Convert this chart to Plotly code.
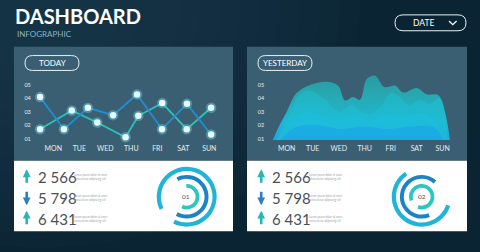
import plotly.graph_objects as go

W, H = 480, 252
def PX(x): return x / W
def PY(y): return 1 - y / H

# ---------------- data ----------------
days = ["MON", "TUE", "WED", "THU", "FRI", "SAT", "SUN"]
y_ticks = [1, 2, 3, 4, 5]
y_ticktext = ["01", "02", "03", "04", "05"]

# TODAY line chart (x in day-index units)
today_a_x = [-0.51, 0.41, 1.33, 2.30, 3.22, 4.18, 5.14, 6.07]
today_a_v = [4.1, 1.7, 3.3, 2.75, 4.3, 1.7, 3.6, 1.3]
today_b_x = [-0.51, 0.71, 1.69, 2.78, 3.27, 4.19, 5.13, 6.07]
today_b_v = [1.7, 3.1, 2.2, 1.1, 2.7, 3.65, 1.7, 3.3]

# YESTERDAY layered areas
area1_x = [-0.6, -0.35, 0.0, 0.38, 0.9, 1.54, 1.98, 2.24, 2.56, 2.82, 3.08, 3.4, 3.75, 4.17, 4.49, 5.0, 5.38, 5.83, 6.09, 6.3]
area1_v = [0.6, 1.7, 3.0, 4.4, 5.0, 5.25, 4.95, 3.85, 4.1, 3.9, 5.45, 5.7, 4.85, 4.95, 4.44, 4.78, 4.31, 4.24, 2.96, 0.6]
area2_x = [-0.5, 0.0, 0.5, 0.9, 1.5, 2.0, 2.5, 2.9, 3.3, 3.7, 4.0, 4.3, 4.7, 5.1, 5.5, 5.9, 6.2]
area2_v = [0.6, 2.4, 4.3, 4.6, 3.9, 3.0, 3.5, 3.0, 2.9, 3.6, 4.4, 4.2, 3.5, 3.9, 3.6, 4.0, 0.6]
area3_x = [-0.45, 0.2, 0.8, 1.4, 2.0, 2.6, 3.2, 3.8, 4.4, 5.0, 5.6, 6.15]
area3_v = [0.6, 2.4, 3.0, 2.6, 2.4, 2.7, 2.3, 2.8, 2.6, 2.9, 2.6, 0.6]
area4_x = [-0.4, 0.3, 1.2, 2.1, 3.0, 3.9, 4.8, 5.7, 6.1]
area4_v = [0.6, 1.8, 2.0, 1.7, 1.9, 1.7, 1.9, 1.8, 0.6]

# stats rows
stat_values = ["2 566", "5 798", "6 431"]
stat_dirs = ["up", "down", "up"]
stat_rows_y = [178.7, 199.5, 220.5]

# donut rings: (inner radius, thickness, start angle, end angle, color)
ring_colors = ["#1fb4d8", "#1c84c6", "#2cc6c0"]
ring_base = [26, 18, 9]
ring_thick = [4.2, 4.0, 3.8]
donut1_start = [243, -120, -115]
donut1_end = [566, 118, 92]
donut2_start = [124, 48, 250]
donut2_end = [342, 292, 560]
donut_labels = ["01", "02"]

FONT = "Lato"
PANEL = "#3b5f72"
BG = "#0b2433"

fig = go.Figure()

# ---- line chart
for xs, vs, col in [(today_b_x, today_b_v, "#27c3bc"), (today_a_x, today_a_v, "#1f8fd2")]:
    fig.add_trace(go.Scatter(x=xs, y=vs, mode="lines", line=dict(color=col, width=1.8),
                             xaxis="x", yaxis="y", hoverinfo="skip", showlegend=False))
for xs, vs in [(today_b_x, today_b_v), (today_a_x, today_a_v)]:
    fig.add_trace(go.Scatter(x=xs, y=vs, mode="markers",
                             marker=dict(color="rgba(130,235,255,0.35)", size=10.5),
                             xaxis="x", yaxis="y", cliponaxis=False, hoverinfo="skip", showlegend=False))
    fig.add_trace(go.Scatter(x=xs, y=vs, mode="markers",
                             marker=dict(color="#e4fcff", size=6.5),
                             xaxis="x", yaxis="y", cliponaxis=False, hoverinfo="skip", showlegend=False))

# ---- area chart
fig.add_trace(go.Scatter(x=area1_x, y=area1_v, mode="lines", line=dict(width=0, shape="spline", smoothing=1.0),
                         fill="tozeroy",
                         fillgradient=dict(type="vertical",
                                           colorscale=[[0, "#1a9ee6"], [0.4, "#1fb7d4"], [0.75, "#27a8b0"], [1, "#2a9aa2"]]),
                         xaxis="x2", yaxis="y2", hoverinfo="skip", showlegend=False))
fig.add_trace(go.Scatter(x=area2_x, y=area2_v, mode="lines", line=dict(width=0, shape="spline", smoothing=1.0),
                         fill="tozeroy", fillcolor="rgba(30,192,212,0.55)",
                         xaxis="x2", yaxis="y2", hoverinfo="skip", showlegend=False))
fig.add_trace(go.Scatter(x=area3_x, y=area3_v, mode="lines", line=dict(width=0, shape="spline", smoothing=1.0),
                         fill="tozeroy", fillcolor="rgba(28,190,228,0.45)",
                         xaxis="x2", yaxis="y2", hoverinfo="skip", showlegend=False))
fig.add_trace(go.Scatter(x=area4_x, y=area4_v, mode="lines", line=dict(width=0, shape="spline", smoothing=1.0),
                         fill="tozeroy", fillcolor="rgba(26,160,232,0.55)",
                         xaxis="x2", yaxis="y2", hoverinfo="skip", showlegend=False))

# ---- donuts
for k, (starts, ends) in enumerate([(donut1_start, donut1_end), (donut2_start, donut2_end)]):
    pname = "polar" if k == 0 else "polar2"
    for i in range(3):
        s, e = starts[i], ends[i]
        fig.add_trace(go.Barpolar(r=[ring_thick[i]], base=[ring_base[i]], theta=[(s + e) / 2],
                                  width=[e - s], marker=dict(color=ring_colors[i], line=dict(width=0)),
                                  subplot=pname, hoverinfo="skip", showlegend=False))

shapes = []
# soft background glow at top-left
for rr in range(320, 40, -20):
    shapes.append(dict(type="circle", xref="paper", yref="paper",
                       x0=PX(40 - rr), x1=PX(40 + rr), y0=PY(10 + rr * 0.75), y1=PY(10 - rr * 0.75),
                       fillcolor="rgba(30,85,100,0.05)", line=dict(width=0), layer="below"))

def rect(x0, y0, x1, y1, color):
    shapes.append(dict(type="rect", xref="paper", yref="paper", x0=PX(x0), x1=PX(x1), y0=PY(y1), y1=PY(y0),
                       fillcolor=color, line=dict(width=0), layer="below"))

def pill(x0, y0, x1, y1, color="#e8f2f6", width=1):
    r = (y1 - y0) / 2
    ym = (y0 + y1) / 2
    def p(x, y): return f"{PX(x):.5f},{PY(y):.5f}"
    path = (f"M{p(x0 + r, y0)} L{p(x1 - r, y0)} Q{p(x1, y0)} {p(x1, ym)} Q{p(x1, y1)} {p(x1 - r, y1)} "
            f"L{p(x0 + r, y1)} Q{p(x0, y1)} {p(x0, ym)} Q{p(x0, y0)} {p(x0 + r, y0)} Z")
    shapes.append(dict(type="path", xref="paper", yref="paper", path=path,
                       line=dict(color=color, width=width), fillcolor="rgba(0,0,0,0)"))

# panels
for x0, x1 in [(14, 233), (247, 467)]:
    rect(x0, 47, x1, 162, PANEL)
    rect(x0, 162, x1, 233, "#ffffff")

pill(25, 56, 79, 71)
pill(258, 56, 312, 71)
pill(395, 15, 466, 31)
# chevron in DATE pill
shapes.append(dict(type="path", xref="paper", yref="paper",
                   path=f"M{PX(449):.5f},{PY(21.2):.5f} L{PX(452.8):.5f},{PY(24.8):.5f} L{PX(456.6):.5f},{PY(21.2):.5f}",
                   line=dict(color="#ffffff", width=1.3)))

ann = []
def text(x, y, t, size, color, xanchor="left", bold=False, family=FONT):
    ann.append(dict(x=PX(x), y=PY(y), xref="paper", yref="paper", text=(f"<b>{t}</b>" if bold else t),
                    showarrow=False, xanchor=xanchor, yanchor="middle",
                    font=dict(size=size, color=color, family=family)))

text(13, 16.5, "DASHBOARD", 20, "#ffffff", bold=True)
text(14.5, 34.5, "INFOGRAPHIC", 8, "#8db2c3")
text(423.5, 23, "DATE", 8.5, "#ffffff", xanchor="center")
text(52, 63.8, "TODAY", 8, "#ffffff", xanchor="center")
text(285.3, 63.8, "YESTERDAY", 8, "#ffffff", xanchor="center")

for ox in [0, 234.5]:
    for val, d, yy in zip(stat_values, stat_dirs, stat_rows_y):
        col = "#27b6b6" if d == "up" else "#2a7fc0"
        tip, tail = (yy - 8, yy + 7) if d == "up" else (yy + 7.5, yy - 7.5)
        ann.append(dict(x=PX(26.7 + ox), y=PY(tip), xref="paper", yref="paper", ax=0, ay=tail - tip,
                        showarrow=True, arrowhead=2, arrowsize=0.6, arrowwidth=2.6, arrowcolor=col, text=""))
        text(35.5 + ox, yy, val, 15, "#4a4f55")
        ann.append(dict(x=PX(72 + ox), y=PY(yy), xref="paper", yref="paper",
                        text="Lorem ipsum dolor sit amet<br>consectetur adipiscing elit",
                        showarrow=False, xanchor="left", yanchor="middle", align="left",
                        font=dict(size=2.8, color="#9a9fa4", family=FONT)))

text(186.2, 198.5, donut_labels[0], 6.5, "#4a4f55", xanchor="center")
text(421.7, 198.5, donut_labels[1], 6.5, "#4a4f55", xanchor="center")

axis_common = dict(showgrid=False, zeroline=False, showline=False, ticks="", fixedrange=True)
xfont = dict(size=7, color="#e4edf2", family=FONT)
yfont = dict(size=5.5, color="#e4edf2", family=FONT)

def polar_layout(cx, cy):
    R = 31
    return dict(domain=dict(x=[PX(cx - R), PX(cx + R)], y=[PY(cy + R), PY(cy - R)]),
                bgcolor="rgba(0,0,0,0)", hole=0,
                radialaxis=dict(visible=False, range=[0, 31]),
                angularaxis=dict(visible=False, rotation=0, direction="counterclockwise"),
                barmode="overlay")

ydom = [PY(141.05), PY(75.6)]
fig.update_layout(
    width=W, height=H, margin=dict(l=0, r=0, t=0, b=0),
    paper_bgcolor=BG, plot_bgcolor="rgba(0,0,0,0)",
    xaxis=dict(domain=[PX(33.8), PX(218.4)], range=[-0.75, 6.35], tickvals=list(range(7)), ticktext=days,
               tickfont=xfont, anchor="y", ticklabelstandoff=3, **axis_common),
    yaxis=dict(domain=ydom, range=[0.9, 5.75], tickvals=y_ticks, ticktext=y_ticktext,
               tickfont=yfont, anchor="x", ticklabelstandoff=2, **axis_common),
    xaxis2=dict(domain=[PX(267.2), PX(451.8)], range=[-0.75, 6.35], tickvals=list(range(7)), ticktext=days,
                tickfont=xfont, anchor="y2", ticklabelstandoff=3, **axis_common),
    yaxis2=dict(domain=ydom, range=[0.9, 5.75], tickvals=y_ticks, ticktext=y_ticktext,
                tickfont=yfont, anchor="x2", ticklabelstandoff=2, **axis_common),
    polar=polar_layout(186.7, 198.3),
    polar2=polar_layout(421.7, 198.3),
    shapes=shapes, annotations=ann, showlegend=False,
)

fig.write_html("out.html")
